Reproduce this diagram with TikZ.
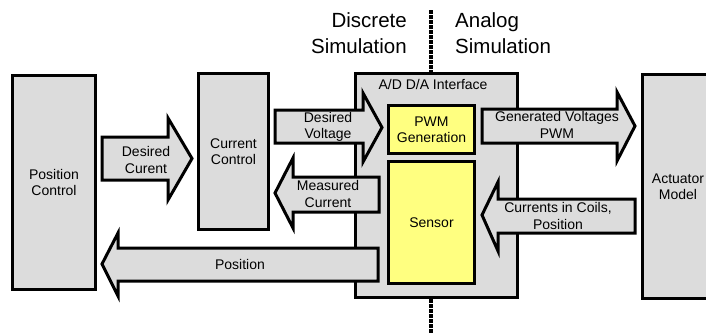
\documentclass[tikz,border=0pt]{standalone}
\usepackage{fontspec}
\setmainfont{Liberation Sans}
\definecolor{boxgrey}{HTML}{DCDCDC}
\definecolor{boxyellow}{HTML}{FFFF80}
\begin{document}
\begin{tikzpicture}[x=1pt,y=-1pt,
  lbl/.style={inner sep=0pt, align=center, font=\fontsize{14}{16.5}\selectfont},
  blk/.style={lbl, draw=black, line width=3pt, fill=boxgrey, anchor=north west},
  ylw/.style={blk, fill=boxyellow},
  barrow/.style={draw=black, line width=3pt, fill=boxgrey, line join=miter, miter limit=10},
  big/.style={inner sep=0pt, font=\fontsize{20.5}{24}\selectfont},
  divider/.style={line width=3.5pt, dash pattern=on 3.5pt off 1.5pt}]
\useasboundingbox (0,0) rectangle (706,335);

% main blocks
\node[blk, minimum width=83pt, minimum height=214pt] (posctrl) at (11,74) {Position\\Control};
\node[blk, minimum width=70pt, minimum height=156pt] (curctrl) at (197,72) {Current\\Control};
\node[blk, minimum width=162pt, minimum height=224pt] (iface) at (354,72) {};
\node[blk, minimum width=71pt, minimum height=224pt] (actuator) at (641,73) {Actuator\\Model};
\node[lbl] (ifacelbl) at (433,84) {A/D D/A Interface};

% blocks inside the interface
\node[ylw, minimum width=86pt, minimum height=48pt] (pwm) at (387,104) {PWM\\Generation};
\node[ylw, minimum width=86pt, minimum height=122pt] (sensor) at (387,160) {Sensor};

% discrete / analog divider
\coordinate (divtop) at (431,10);
\coordinate (divbot) at (431,333);
\draw[divider] (divtop) -- (divtop |- iface.north);
\draw[divider] (iface.south -| divbot) -- (divbot);
\node[big, anchor=base east] (disc1) at (407,27) {Discrete};
\node[big, anchor=base east] (disc2) at (407,53) {Simulation};
\node[big, anchor=base west] (anal1) at (455,27) {Analog};
\node[big, anchor=base west] (anal2) at (455,53) {Simulation};

% signal arrows
\draw[barrow] (102,137) -- (168,137) -- (168,118) -- (192,158.5) -- (168,200) -- (168,180) -- (102,180) -- cycle;
\node[lbl] (desiredcur) at (146,160) {Desired\\Curent};

\draw[barrow] (275,110) -- (363,110) -- (363,93) -- (382,127.5) -- (363,162) -- (363,143) -- (275,143) -- cycle;
\node[lbl] (desiredvolt) at (328,127) {Desired\\Voltage};

\draw[barrow] (482,109) -- (617,109) -- (617,92) -- (635,126) -- (617,161) -- (617,143) -- (482,143) -- cycle;
\node[lbl] (genvolt) at (557,125) {Generated Voltages\\PWM};

\draw[barrow] (379,177) -- (293,177) -- (293,158) -- (275,193) -- (293,228) -- (293,212) -- (379,212) -- cycle;
\node[lbl] (meascur) at (328,194) {Measured\\Current};

\draw[barrow] (635,199) -- (498,199) -- (498,182) -- (482,215) -- (498,251) -- (498,233) -- (635,233) -- cycle;
\node[lbl] (coils) at (558,216) {Currents in Coils,\\Position};

\draw[barrow] (378,248) -- (118,248) -- (118,233) -- (102,264) -- (118,296) -- (118,281) -- (378,281) -- cycle;
\node[lbl] (position) at (240,264) {Position};
\end{tikzpicture}
\end{document}
